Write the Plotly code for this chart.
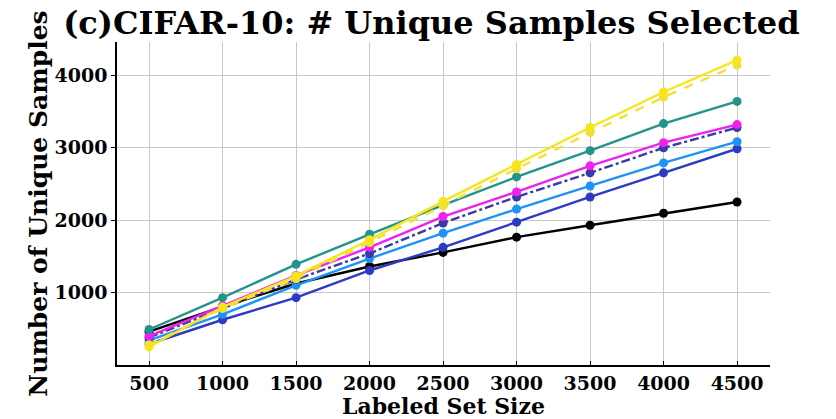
import plotly.graph_objects as go

x_sizes = [500, 1000, 1500, 2000, 2500, 3000, 3500, 4000, 4500]

yellow_solid = [250, 800, 1230, 1730, 2260, 2770, 3280, 3770, 4210]
yellow_dash = [280, 780, 1190, 1690, 2200, 2710, 3210, 3700, 4140]
teal = [490, 930, 1390, 1805, 2208, 2597, 2960, 3333, 3640]
magenta = [400, 820, 1236, 1625, 2050, 2390, 2750, 3070, 3320]
navy_dashdot = [380, 780, 1180, 1540, 1960, 2320, 2653, 3000, 3278]
light_blue = [340, 700, 1100, 1470, 1820, 2153, 2472, 2790, 3083]
royal_blue = [290, 625, 930, 1305, 1625, 1972, 2320, 2653, 2986]
black = [460, 805, 1125, 1360, 1555, 1765, 1930, 2095, 2250]

y_ticks = [1000, 2000, 3000, 4000]

series = [
    ("black", black, "#000000", "solid"),
    ("royal", royal_blue, "#2b3cc0", "solid"),
    ("light", light_blue, "#1f93f5", "solid"),
    ("navy", navy_dashdot, "#3a3aa8", "dashdot"),
    ("magenta", magenta, "#f020f0", "solid"),
    ("teal", teal, "#22948c", "solid"),
    ("ydash", yellow_dash, "#f3df3a", "dash"),
    ("ysolid", yellow_solid, "#f7e51c", "solid"),
]

fig = go.Figure()
for name, vals, col, dash in series:
    fig.add_trace(go.Scatter(
        x=x_sizes, y=vals, name=name, mode="lines+markers",
        line=dict(color=col, width=2.4, dash=dash),
        marker=dict(color=col, size=9),
        showlegend=False,
    ))

font_family = "DejaVu Serif"
fig.update_layout(
    width=836, height=419,
    paper_bgcolor="white", plot_bgcolor="white",
    margin=dict(l=117, r=66, t=42, b=54),
    title=dict(text="<b>(c)CIFAR-10: # Unique Samples Selected</b>",
               x=0.516, xanchor="center", y=0.945, yanchor="middle",
               font=dict(family=font_family, size=32, color="black")),
    font=dict(family=font_family, color="black"),
)
fig.update_xaxes(
    range=[282, 4724],
    tickvals=x_sizes, ticktext=[f"<b>{v}</b>" for v in x_sizes],
    tickfont=dict(size=19, family=font_family),
    title=dict(text="<b>Labeled Set Size</b>", font=dict(size=22, family=font_family), standoff=0),
    showgrid=True, gridcolor="#c8c8c8", gridwidth=1.3,
    showline=True, linecolor="black", linewidth=1.5,
    ticks="inside", ticklen=4, tickcolor="black",
    zeroline=False, automargin=False,
)
fig.update_yaxes(
    range=[0, 4460],
    tickvals=y_ticks, ticktext=[f"<b>{v}</b>" for v in y_ticks],
    tickfont=dict(size=19, family=font_family),
    title=dict(text="<b>Number of Unique Samples</b>", font=dict(size=25, family=font_family), standoff=0),
    showgrid=True, gridcolor="#c8c8c8", gridwidth=1.3,
    showline=True, linecolor="black", linewidth=1.5,
    ticks="outside", ticklen=4, tickcolor="black",
    zeroline=False, automargin=False,
)
fig.write_html("out.html", config={"displayModeBar": False},
               post_script="document.body.style.margin='0';document.body.style.overflow='hidden';")
